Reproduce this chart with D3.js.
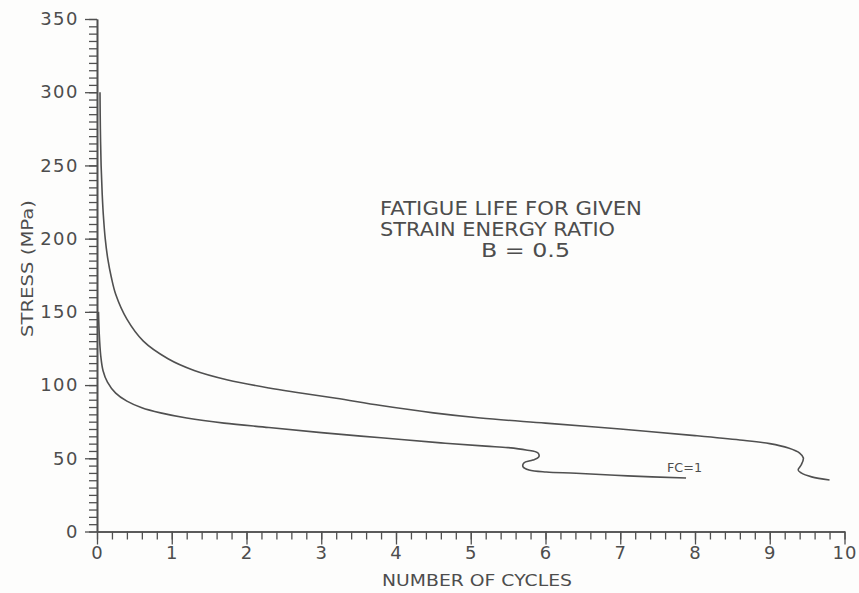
<!DOCTYPE html>
<html>
<head>
<meta charset="utf-8">
<script src="https://cdn.jsdelivr.net/npm/d3@7"></script>
<style>
  html, body { margin: 0; padding: 0; background: #fdfdfc; }
  svg { display: block; }
  text { font-family: "DejaVu Sans", "Liberation Sans", sans-serif; fill: #4d4d4d; }
</style>
</head>
<body>
<svg id="chart" width="859" height="593"></svg>
<script>
// Fatigue life curves: stress vs number of cycles, strain energy ratio B = 0.5
const upperCycles = [0.04, 0.045, 0.055, 0.07, 0.085, 0.11, 0.145, 0.19, 0.25, 0.40, 0.62, 0.95, 1.30, 1.75, 2.30, 2.70, 3.20, 3.80, 4.50, 5.13, 6.00, 7.00, 8.00, 8.60, 9.00, 9.25, 9.40, 9.45, 9.42, 9.38, 9.42, 9.56, 9.80];
const upperStress = [300, 275, 250, 230, 216, 200, 186, 174, 162, 145, 130, 118, 110, 103.5, 98, 94.8, 91, 86, 81, 77.5, 74, 70, 65.5, 62.5, 60, 57, 53.6, 50.2, 45.4, 42.0, 40.0, 37.3, 35.2];

const lowerCycles = [0.02, 0.03, 0.05, 0.08, 0.14, 0.25, 0.40, 0.60, 0.85, 1.20, 1.70, 2.30, 3.00, 3.80, 4.60, 5.20, 5.50, 5.74, 5.90, 5.91, 5.83, 5.71, 5.70, 5.78, 6.01, 6.41, 7.10, 7.88];
const lowerStress = [150, 135, 120, 110, 102, 94.5, 89, 84.5, 81, 77.5, 74, 71, 67.5, 64, 60.5, 58.3, 57.3, 55.7, 53.6, 50.9, 48.8, 46.8, 44.1, 42.0, 40.6, 39.8, 38, 36.5];

const xMajorTicks = [0, 1, 2, 3, 4, 5, 6, 7, 8, 9, 10];
const yMajorTicks = [0, 50, 100, 150, 200, 250, 300, 350];
const titleLines = ["FATIGUE LIFE FOR GIVEN", "STRAIN ENERGY RATIO", "B = 0.5"];
const curveLabel = "FC=1";
const xTitle = "NUMBER OF CYCLES";
const yTitle = "STRESS (MPa)";

const svg = d3.select("#chart");
const ink = "#505050";

const x = d3.scaleLinear().domain([0, 10]).range([97, 844.5]);
const y = d3.scaleLinear().domain([0, 350]).range([531.5, 19]);

// minor ticks (no labels)
const xMinor = d3.range(0, 10.001, 0.2).map(v => +v.toFixed(1));
const yMinor = d3.range(0, 350.001, 5);

const gxMinor = svg.append("g").attr("transform", `translate(0,${y(0)})`)
  .call(d3.axisBottom(x).tickValues(xMinor).tickSize(8).tickSizeOuter(0).tickFormat(""));
const gyMinor = svg.append("g").attr("transform", `translate(${x(0)},0)`)
  .call(d3.axisLeft(y).tickValues(yMinor).tickSize(8).tickSizeOuter(0).tickFormat(""));

const gx = svg.append("g").attr("transform", `translate(0,${y(0)})`)
  .call(d3.axisBottom(x).tickValues(xMajorTicks).tickSize(13).tickSizeOuter(0));
const gy = svg.append("g").attr("transform", `translate(${x(0)},0)`)
  .call(d3.axisLeft(y).tickValues(yMajorTicks).tickSize(12).tickSizeOuter(0).tickPadding(6));

[gxMinor, gyMinor, gx, gy].forEach(g => {
  g.selectAll("path.domain").attr("stroke", ink).attr("stroke-width", 1.6);
  g.selectAll(".tick line").attr("stroke", ink).attr("stroke-width", 1.3);
});
svg.selectAll(".tick text")
  .attr("font-size", 18)
  .attr("fill", "#4d4d4d")
  .style("font-family", "\"DejaVu Sans\", sans-serif");
gx.selectAll(".tick text").attr("y", 15).attr("dy", "0.71em").attr("letter-spacing", 1);
gy.selectAll(".tick text").attr("letter-spacing", 1.5);

// curves
const line = d3.line()
  .x(d => x(d[0]))
  .y(d => y(d[1]))
  .curve(d3.curveCatmullRom.alpha(0.5));

const upper = upperCycles.map((c, i) => [c, upperStress[i]]);
const lower = lowerCycles.map((c, i) => [c, lowerStress[i]]);

svg.append("path").datum(upper).attr("d", line)
  .attr("fill", "none").attr("stroke", ink).attr("stroke-width", 1.6);
svg.append("path").datum(lower).attr("d", line)
  .attr("fill", "none").attr("stroke", ink).attr("stroke-width", 1.6);

// curve label
svg.append("text")
  .attr("x", 667).attr("y", 472)
  .attr("font-size", 13)
  .attr("textLength", 35).attr("lengthAdjust", "spacingAndGlyphs")
  .text(curveLabel);

// title block
const titleGeom = [
  { x: 380, y: 215, len: 262 },
  { x: 380, y: 236, len: 235 },
  { x: 481, y: 257, len: 89 }
];
titleLines.forEach((t, i) => {
  svg.append("text")
    .attr("x", titleGeom[i].x).attr("y", titleGeom[i].y)
    .attr("font-size", 19)
    .attr("textLength", titleGeom[i].len).attr("lengthAdjust", "spacingAndGlyphs")
    .text(t);
});

// axis titles
svg.append("text")
  .attr("x", 382).attr("y", 586)
  .attr("font-size", 16.5)
  .attr("textLength", 190).attr("lengthAdjust", "spacingAndGlyphs")
  .text(xTitle);

svg.append("text")
  .attr("transform", "translate(33,337) rotate(-90)")
  .attr("font-size", 16)
  .attr("textLength", 137).attr("lengthAdjust", "spacingAndGlyphs")
  .text(yTitle);
</script>
</body>
</html>
